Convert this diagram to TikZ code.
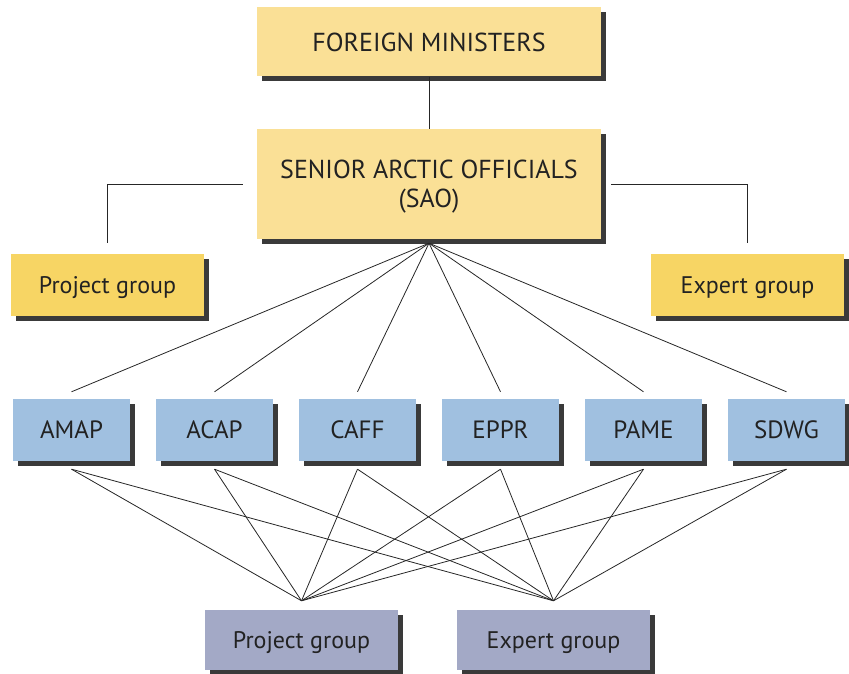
\documentclass[tikz,border=0pt]{standalone}
\usepackage{fontspec}
\setmainfont{PT Sans}
\usetikzlibrary{shadows,calc}
\definecolor{lyel}{HTML}{FAE096}
\definecolor{dyel}{HTML}{F7D564}
\definecolor{lblue}{HTML}{A0C0E0}
\definecolor{lslate}{HTML}{A3A9C6}
\definecolor{txt}{HTML}{222222}
\definecolor{shd}{HTML}{3A3A3A}
\tikzset{
  box/.style={rectangle, inner sep=0pt, align=center, text=txt, font=\fontsize{24}{28}\selectfont,
    text depth=0pt,
    drop shadow={shadow xshift=5pt, shadow yshift=-5pt, fill=shd, opacity=1}},
  topbox/.style={box, fill=lyel, minimum width=344pt, font=\fontsize{26}{29}\selectfont},
  sidebox/.style={box, fill=dyel, minimum width=193pt, minimum height=62pt},
  wgbox/.style={box, fill=lblue, minimum width=117pt, minimum height=62pt, font=\fontsize{25}{28}\selectfont},
  botbox/.style={box, fill=lslate, minimum width=193pt, minimum height=60pt},
  conn/.style={draw=black!85, line width=0.9pt}
}
\begin{document}
\begin{tikzpicture}[x=1pt,y=1pt]
\useasboundingbox (0,0) rectangle (849,674);
% top
\node[topbox, minimum height=69pt] (fm) at (429,632) {FOREIGN MINISTERS};
\node[topbox, minimum height=110pt] (sao) at (429,490) {SENIOR ARCTIC OFFICIALS\\(SAO)};
\node[sidebox] (pg) at (107.5,389) {Project group};
\node[sidebox] (eg) at (747.5,389) {Expert group};
% working groups
\foreach \n/\t/\x in {amap/AMAP/71.5, acap/ACAP/214.5, caff/CAFF/357.5, eppr/EPPR/500.5, pame/PAME/643.5, sdwg/SDWG/786.5}{
  \node[wgbox] (\n) at (\x,244) {\t};
}
\node[botbox] (bpg) at (301.5,34) {Project group};
\node[botbox] (beg) at (553.5,34) {Expert group};
% coordinates
\coordinate (saof) at ($(sao.south)+(0,-4)$);
\coordinate (saol) at ($(sao.west)+(-14,0)$);
\coordinate (saor) at ($(sao.east)+(10,0)$);
\coordinate (pgt) at ($(pg.north)+(0,11)$);
\coordinate (egt) at ($(eg.north)+(0,11)$);
\coordinate (bpgt) at ($(bpg.north)+(0,9)$);
\coordinate (begt) at ($(beg.north)+(0,9)$);
% connectors
\draw[conn] (fm.south) -- (sao.north);
\draw[conn] (saol) -| (pgt);
\draw[conn] (saor) -| (egt);
\foreach \n in {amap,acap,caff,eppr,pame,sdwg}{
  \draw[conn, line width=0.8pt] (saof) -- ($(\n.north)+(0,7)$);
  \draw[conn, line width=0.8pt] ($(\n.south)+(0,-8)$) -- (bpgt);
  \draw[conn, line width=0.8pt] ($(\n.south)+(0,-8)$) -- (begt);
}
\end{tikzpicture}
\end{document}
